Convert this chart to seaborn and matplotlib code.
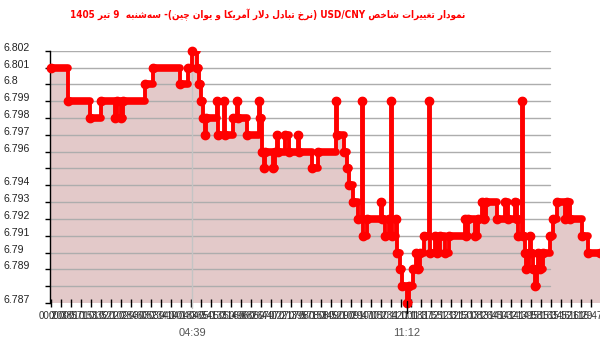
import re
import matplotlib
matplotlib.use('Agg')
import matplotlib.pyplot as plt
import matplotlib.transforms as mtransforms
from matplotlib.ticker import MultipleLocator, FuncFormatter
import seaborn as sns
import pandas as pd

# ---------------- data (minutes since 00:00, USD/CNY rate) ----------------
times = [21, 52, 93, 113, 138, 142, 149, 153, 193, 208, 257, 272, 279, 288, 292, 295,
         299, 303, 305, 325, 327, 338, 339, 354, 361, 363, 380, 402, 403, 407, 411, 412,
         427, 431, 434, 436, 449, 456, 473, 475, 498, 509, 542, 544, 557, 562, 566, 573,
         582, 590, 592, 599, 625, 626, 632, 639, 643, 645, 652, 654, 659, 663, 672, 676,
         683, 688, 692, 696, 703, 712, 714, 723, 727, 732, 742, 749, 778, 780, 784, 796,
         802, 809, 813, 816, 837, 851, 857, 869, 873, 875, 882, 884, 888, 890, 895, 897,
         899, 902, 906, 910, 912, 915, 921, 933, 939, 946, 961, 965, 970, 992, 1003, 1025]
rates = [6.801, 6.799, 6.798, 6.799, 6.798, 6.799, 6.798, 6.799, 6.800, 6.801, 6.800, 6.801,
         6.802, 6.801, 6.800, 6.799, 6.798, 6.797, 6.798, 6.799, 6.797, 6.799, 6.797, 6.798,
         6.799, 6.798, 6.797, 6.799, 6.798, 6.796, 6.795, 6.796, 6.795, 6.796, 6.797, 6.796,
         6.797, 6.796, 6.797, 6.796, 6.795, 6.796, 6.799, 6.797, 6.796, 6.795, 6.794, 6.793,
         6.792, 6.799, 6.791, 6.792, 6.793, 6.792, 6.791, 6.792, 6.799, 6.791, 6.792, 6.790,
         6.789, 6.788, 6.787, 6.788, 6.789, 6.790, 6.789, 6.790, 6.791, 6.799, 6.790, 6.791,
         6.790, 6.791, 6.790, 6.791, 6.792, 6.791, 6.792, 6.791, 6.792, 6.793, 6.792, 6.793,
         6.792, 6.793, 6.792, 6.793, 6.792, 6.791, 6.799, 6.791, 6.790, 6.789, 6.790, 6.791,
         6.790, 6.789, 6.788, 6.789, 6.790, 6.789, 6.790, 6.791, 6.792, 6.793, 6.792, 6.793,
         6.792, 6.791, 6.790, 6.790]
assert len(times) == len(rates)

ytick_values = [6.787, 6.788, 6.789, 6.790, 6.791, 6.792, 6.793, 6.794, 6.795,
                6.796, 6.797, 6.798, 6.799, 6.800, 6.801, 6.802]
ytick_labels = ['6.787', '', '6.789', '6.79', '6.791', '6.792', '6.793', '6.794', '',
                '6.796', '6.797', '6.798', '6.799', '6.8', '6.801', '6.802']
marked_times = [279, 672]
marked_labels = ['04:39', '11:12']
title_text = 'نمودار تغییرات شاخص USD/CNY (نرخ تبادل دلار آمریکا و یوان چین)- سه\u200cشنبه  9 تیر 1405'

# ---------------- minimal Persian shaping + RTL ordering ----------------
FORMS = {
    '\u0627': ('\uFE8D', '\uFE8E', None, None),
    '\u0622': ('\uFE81', '\uFE82', None, None),
    '\u062F': ('\uFEA9', '\uFEAA', None, None),
    '\u0631': ('\uFEAD', '\uFEAE', None, None),
    '\u0648': ('\uFEED', '\uFEEE', None, None),
    '\u0628': ('\uFE8F', '\uFE90', '\uFE91', '\uFE92'),
    '\u062A': ('\uFE95', '\uFE96', '\uFE97', '\uFE98'),
    '\u062E': ('\uFEA5', '\uFEA6', '\uFEA7', '\uFEA8'),
    '\u0633': ('\uFEB1', '\uFEB2', '\uFEB3', '\uFEB4'),
    '\u0634': ('\uFEB5', '\uFEB6', '\uFEB7', '\uFEB8'),
    '\u0635': ('\uFEB9', '\uFEBA', '\uFEBB', '\uFEBC'),
    '\u063A': ('\uFECD', '\uFECE', '\uFECF', '\uFED0'),
    '\u0644': ('\uFEDD', '\uFEDE', '\uFEDF', '\uFEE0'),
    '\u0645': ('\uFEE1', '\uFEE2', '\uFEE3', '\uFEE4'),
    '\u0646': ('\uFEE5', '\uFEE6', '\uFEE7', '\uFEE8'),
    '\u0647': ('\uFEE9', '\uFEEA', '\uFEEB', '\uFEEC'),
    '\u06CC': ('\uFBFC', '\uFBFD', '\uFBFE', '\uFBFF'),
    '\u06A9': ('\uFB8E', '\uFB8F', '\uFB90', '\uFB91'),
    '\u0686': ('\uFB7A', '\uFB7B', '\uFB7C', '\uFB7D'),
}
LAM_ALEF = {'\u0627': ('\uFEFB', '\uFEFC'), '\u0622': ('\uFEF5', '\uFEF6')}


def _dual(c):
    return c in FORMS and FORMS[c][2] is not None


def shape(s):
    out, i, n = [], 0, len(s)
    while i < n:
        c = s[i]
        if c not in FORMS:
            if c != '\u200c':
                out.append(c)
            i += 1
            continue
        jp = i > 0 and _dual(s[i - 1])
        if c == '\u0644' and i + 1 < n and s[i + 1] in LAM_ALEF:
            out.append(LAM_ALEF[s[i + 1]][1 if jp else 0])
            i += 2
            continue
        jn = _dual(c) and i + 1 < n and s[i + 1] in FORMS
        f = FORMS[c]
        out.append(f[3] if (jp and jn) else f[1] if jp else f[2] if jn else f[0])
        i += 1
    return ''.join(out)


def visual(s):
    s = shape(s)
    runs = re.findall(r'[A-Za-z0-9]+(?:[/.:][A-Za-z0-9]+)*|[^A-Za-z0-9]+', s)
    mirror = {'(': ')', ')': '('}
    res = []
    for r in reversed(runs):
        if re.match(r'[A-Za-z0-9]', r):
            res.append(r)
        else:
            res.append(''.join(mirror.get(ch, ch) for ch in reversed(r)))
    return ''.join(res)


# ---------------- figure ----------------
sns.set_style('white')
plt.rcParams['font.family'] = ['Liberation Sans', 'DejaVu Sans']

df = pd.DataFrame({'time': times, 'rate': rates})

fig = plt.figure(figsize=(6.0, 3.52), dpi=100)
ax = fig.add_axes([50 / 600, 0.139, 550 / 600, 0.717])

x0, x1 = 19.4, 1024.8
y0, y1 = 6.787, 6.802
ax.set_xlim(x0, x1)
ax.set_ylim(y0, y1)

# area fill
ax.fill_between(df['time'], df['rate'], y0, step='post', color='#e3c9c9', lw=0, zorder=0)

# horizontal gridlines (stop short of the right edge like the reference)
for yv in ytick_values[1:]:
    ax.axhline(yv, xmin=0, xmax=500 / 550, color='#adadad', lw=1, zorder=1)
ax.axvline(marked_times[0], ymin=-0.02, ymax=1, color='#c4c4c4', lw=1, zorder=1, clip_on=False)

# step line
sns.lineplot(data=df, x='time', y='rate', drawstyle='steps-post', color='#ff0000',
             lw=2.8, ax=ax, zorder=3, estimator=None, legend=False)
ax.hlines(df['rate'][:-1], df['time'][:-1], df['time'][1:].values, colors='#ff0000',
          lw=5.5, zorder=3, capstyle='round')
ax.plot(df['time'], df['rate'], 'o', ms=6, color='#ff0000', zorder=4, clip_on=False)

# axes styling
for sp in ['top', 'right', 'bottom']:
    ax.spines[sp].set_visible(False)
ax.spines['left'].set_color('black')
ax.spines['left'].set_linewidth(1)

ax.set_yticks(ytick_values, ytick_labels)
ax.tick_params(axis='y', length=3.6, width=1, color='black', pad=30.2,
               labelsize=7.6, labelcolor='#222222', left=True)
for lbl in ax.get_yticklabels():
    lbl.set_ha('left')
    lbl.set_va('baseline')

ax.xaxis.set_major_locator(MultipleLocator(18.28, offset=20.7))
ax.xaxis.set_major_formatter(FuncFormatter(lambda v, p: f'{int(v // 60):02d}:{int(v % 60):02d}'))
ax.tick_params(axis='x', direction='inout', length=6, width=1, color='black', pad=2.5,
               labelsize=7, labelcolor='#333333', bottom=True)
ax.set_xlabel('')
ax.set_ylabel('')

trans = mtransforms.blended_transform_factory(ax.transData, ax.transAxes)
ax.plot([marked_times[1], marked_times[1]], [0.01, -0.04], transform=trans,
        color='black', lw=1, clip_on=False, zorder=5)
for t, lab in zip(marked_times, marked_labels):
    ax.text(t, -0.118, lab, transform=trans, ha='center', va='center',
            fontsize=8, color='#555555')

fig.text(268 / 600, 1 - 15 / 352, visual(title_text), ha='center', va='center',
         fontsize=7.1, fontweight='bold', color='#ff0000', family=['DejaVu Sans'],
         fontstretch='condensed')

fig.savefig('out.png', dpi=100)
